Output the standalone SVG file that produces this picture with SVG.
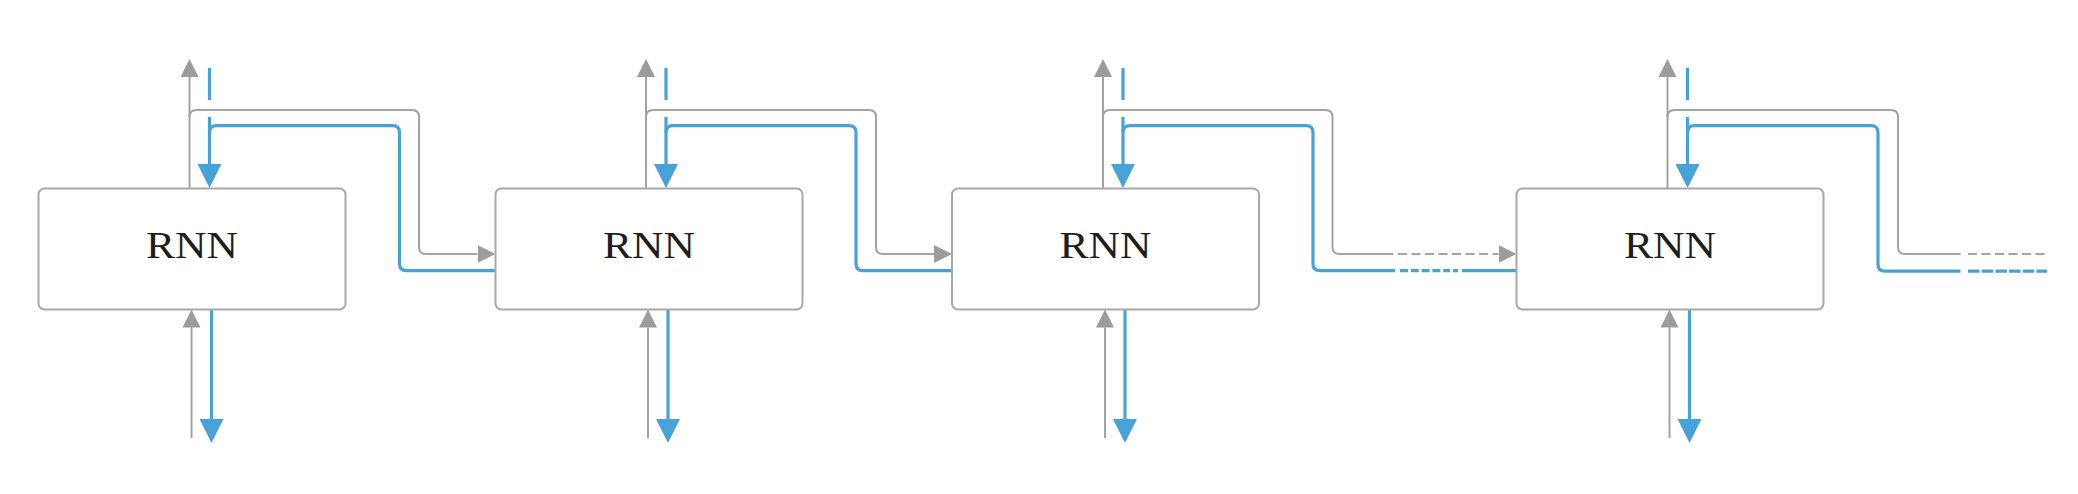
<svg xmlns="http://www.w3.org/2000/svg" width="2078" height="494" viewBox="0 0 2078 494">
<style>
.box{fill:#fff;stroke:#a8a8a8;stroke-width:2}
.lbl{font-family:"Liberation Serif","DejaVu Serif",serif;font-size:37px;fill:#1e1e1e;text-anchor:middle}
.g{fill:none;stroke:#a3a3a3;stroke-width:2}
.b{fill:none;stroke:#48a2da;stroke-width:3.2}
.gd{stroke-dasharray:9 4.5}
.bd{stroke-dasharray:11.5 2.2}
</style>
<defs>
<marker id="ag" markerUnits="userSpaceOnUse" markerWidth="18" markerHeight="18" viewBox="0 0 18 18" refX="0" refY="9" orient="auto"><path d="M0,0 L18,9 L0,18 z" fill="#9c9c9c"/></marker>
<marker id="ab" markerUnits="userSpaceOnUse" markerWidth="24" markerHeight="24" viewBox="0 0 24 24" refX="0" refY="12" orient="auto"><path d="M0,0 L24,12 L0,24 z" fill="#48a2da"/></marker>
</defs>
<g id="connectors">
<!-- box 1 -->
<path class="g" d="M189.5 188.5 V77" marker-end="url(#ag)"/>
<path class="b" d="M209.5 68 V100"/>
<path class="b" d="M209.5 117 V164" marker-end="url(#ab)"/>
<path class="g" d="M191.5 438 V327.5" marker-end="url(#ag)"/>
<path class="b" d="M211.5 309.5 V419" marker-end="url(#ab)"/>
<path class="g" d="M189.5 117 Q189.5 110 196.5 110 H412 Q419 110 419 117 V247 Q419 254 426 254 H477.5" marker-end="url(#ag)"/>
<path class="b" d="M495.5 270.7 H406.5 Q399.5 270.7 399.5 263.7 V132.7 Q399.5 125.7 392.5 125.7 H216.5 Q209.5 125.7 209.5 132.7"/>
<!-- box 2 -->
<path class="g" d="M646 188.5 V77" marker-end="url(#ag)"/>
<path class="b" d="M666 68 V100"/>
<path class="b" d="M666 117 V164" marker-end="url(#ab)"/>
<path class="g" d="M648 438 V327.5" marker-end="url(#ag)"/>
<path class="b" d="M668 309.5 V419" marker-end="url(#ab)"/>
<path class="g" d="M646 117 Q646 110 653 110 H869 Q876 110 876 117 V247 Q876 254 883 254 H934" marker-end="url(#ag)"/>
<path class="b" d="M952 270.7 H863 Q856 270.7 856 263.7 V132.7 Q856 125.7 849 125.7 H673 Q666 125.7 666 132.7"/>
<!-- box 3 -->
<path class="g" d="M1103 188.5 V77" marker-end="url(#ag)"/>
<path class="b" d="M1123 68 V100"/>
<path class="b" d="M1123 117 V164" marker-end="url(#ab)"/>
<path class="g" d="M1105 438 V327.5" marker-end="url(#ag)"/>
<path class="b" d="M1125 309.5 V419" marker-end="url(#ab)"/>
<path class="g" d="M1103 117 Q1103 110 1110 110 H1325.5 Q1332.5 110 1332.5 117 V247 Q1332.5 254 1339.5 254 H1393"/>
<path class="g gd" d="M1398 254 H1498.5" marker-end="url(#ag)"/>
<path class="b" d="M1395 270.7 H1320 Q1313 270.7 1313 263.7 V132.7 Q1313 125.7 1306 125.7 H1130 Q1123 125.7 1123 132.7"/>
<path class="b" d="M1400 270.7 H1450" style="stroke-dasharray:8 2.8"/>
<path class="b" d="M1453 270.7 H1458"/>
<path class="b" d="M1462 270.7 H1516.5"/>
<!-- box 4 -->
<path class="g" d="M1667.5 188.5 V77" marker-end="url(#ag)"/>
<path class="b" d="M1687.5 68 V100"/>
<path class="b" d="M1687.5 117 V164" marker-end="url(#ab)"/>
<path class="g" d="M1669.5 438 V327.5" marker-end="url(#ag)"/>
<path class="b" d="M1689.5 309.5 V419" marker-end="url(#ab)"/>
<path class="g" d="M1667.5 117 Q1667.5 110 1674.5 110 H1891 Q1898 110 1898 117 V247 Q1898 254 1905 254 H1960.5"/>
<path class="g gd" d="M1968 254 H2046"/>
<path class="b" d="M1960.5 271.2 H1885 Q1878 271.2 1878 264.2 V132.7 Q1878 125.7 1871 125.7 H1694.5 Q1687.5 125.7 1687.5 132.7"/>
<path class="b bd" d="M1968 271.2 H2047"/>
</g>
<g id="rnn1"><rect class="box" x="38.5" y="188.5" width="307" height="121" rx="6"/><text class="lbl" x="192" y="258.3" textLength="92" lengthAdjust="spacingAndGlyphs">RNN</text></g>
<g id="rnn2"><rect class="box" x="495.5" y="188.5" width="307" height="121" rx="6"/><text class="lbl" x="649" y="258.3" textLength="92" lengthAdjust="spacingAndGlyphs">RNN</text></g>
<g id="rnn3"><rect class="box" x="952" y="188.5" width="307" height="121" rx="6"/><text class="lbl" x="1105.5" y="258.3" textLength="92" lengthAdjust="spacingAndGlyphs">RNN</text></g>
<g id="rnn4"><rect class="box" x="1516.5" y="188.5" width="307" height="121" rx="6"/><text class="lbl" x="1670" y="258.3" textLength="92" lengthAdjust="spacingAndGlyphs">RNN</text></g>
</svg>
